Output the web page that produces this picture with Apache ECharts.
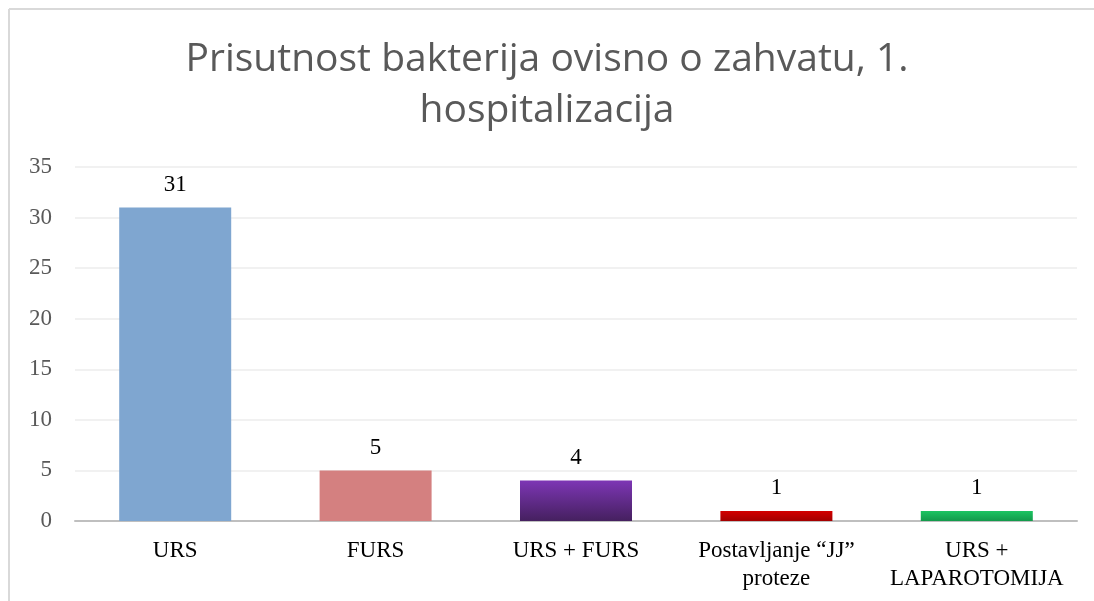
<!DOCTYPE html>
<html lang="hr">
  <head>
    <meta charset="UTF-8" />
    <title>Prisutnost bakterija</title>
    <script src="https://cdn.jsdelivr.net/npm/echarts@6.0.0/dist/echarts.min.js"></script>
    <style>
      body { margin: 0; background: #fff; }
    </style>
  </head>
  <body>
    <div id="main" style="width: 1094px; height: 601px"></div>
    <script type="text/javascript">
      // chart data
      const categories = [
        "URS",
        "FURS",
        "URS + FURS",
        "Postavljanje \u201cJJ\u201d\nproteze",
        "URS +\nLAPAROTOMIJA",
      ];
      const counts = [31, 5, 4, 1, 1];
      const yTicks = [0, 5, 10, 15, 20, 25, 30, 35];

      const grad = (top, bottom) =>
        new echarts.graphic.LinearGradient(0, 0, 0, 1, [
          { offset: 0, color: top },
          { offset: 1, color: bottom },
        ]);
      const barColors = [
        "#7FA6D0",
        "#D48080",
        grad("#7D36B5", "#45205F"),
        grad("#D40000", "#A30000"),
        grad("#1CC562", "#13994B"),
      ];

      const serif = "'Liberation Serif', 'DejaVu Serif', serif";

      let options = {
        animation: false,
        title: {
          text: "Prisutnost bakterija ovisno o zahvatu, 1.\nhospitalizacija",
          left: "center",
          top: 29,
          textStyle: {
            fontFamily: "'Open Sans', Lato, sans-serif",
            fontSize: 39,
            fontWeight: "normal",
            lineHeight: 51,
            color: "#595959",
          },
        },
        graphic: [
          {
            type: "line",
            shape: { x1: 9, y1: 9, x2: 1094, y2: 9 },
            style: { stroke: "#D9D9D9", lineWidth: 2 },
          },
          {
            type: "line",
            shape: { x1: 9, y1: 9, x2: 9, y2: 601 },
            style: { stroke: "#D9D9D9", lineWidth: 2 },
          },
        ],
        grid: { left: 75, right: 17, top: 167, bottom: 80 },
        xAxis: {
          type: "category",
          data: categories,
          axisTick: { show: false },
          axisLine: { lineStyle: { color: "#BFBFBF", width: 2 } },
          axisLabel: {
            interval: 0,
            margin: 16,
            fontFamily: serif,
            fontSize: 23,
            lineHeight: 28,
            color: "#000",
          },
        },
        yAxis: {
          type: "value",
          min: yTicks[0],
          max: yTicks[yTicks.length - 1],
          interval: 5,
          axisLine: { show: false },
          axisTick: { show: false },
          splitLine: { lineStyle: { color: "#EDEDED", width: 1.5 } },
          axisLabel: {
            margin: 23,
            fontFamily: serif,
            fontSize: 23,
            color: "#595959",
          },
        },
        series: [
          {
            name: "Broj",
            type: "bar",
            barWidth: 112,
            data: counts.map((v, i) => ({
              value: v,
              itemStyle: { color: barColors[i] },
            })),
            label: {
              show: true,
              position: "top",
              distance: 11,
              fontFamily: serif,
              fontSize: 23,
              color: "#000",
            },
          },
        ],
      };

      let myChart = echarts.init(document.getElementById("main"));
      myChart.setOption(options);
    </script>
  </body>
</html>
